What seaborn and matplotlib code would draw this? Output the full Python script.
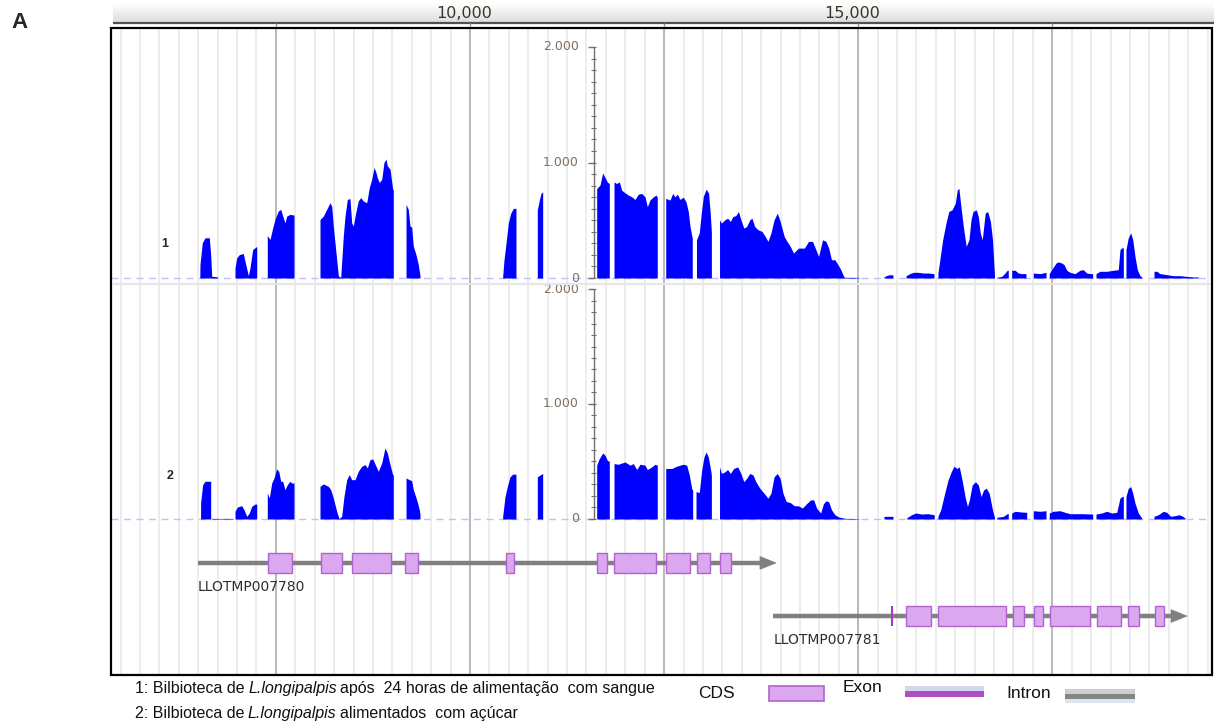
import numpy as np
import matplotlib
matplotlib.use("Agg")
import matplotlib.pyplot as plt
import seaborn as sns
from matplotlib.patches import Rectangle, Polygon

# ---- coverage, library 1 (24 h after blood meal) ----
cov1_pos = [
    6520, 6522, 6552, 6587, 6642, 6660, 6673, 6745, 6748,
    6973, 6973, 6995, 7029, 7080, 7102, 7145, 7166, 7201, 7244, 7253, 7253,
    7389, 7389, 7424, 7459, 7488, 7531, 7562, 7588, 7617, 7639, 7682, 7733, 7733,
    8068, 8068, 8111, 8154, 8197, 8219, 8239, 8270, 8304, 8335, 8368, 8390, 8420, 8454, 8476, 8497, 8528, 8561,
    8592, 8626, 8670, 8703, 8734, 8764, 8789, 8806, 8832, 8863, 8892, 8918, 8935, 8970, 9004, 9012, 9012,
    9176, 9176, 9205, 9227, 9249, 9270, 9304, 9334, 9356, 9356,
    10421, 10421, 10438, 10464, 10493, 10524, 10558, 10592, 10592,
    10867, 10867, 10893, 10914, 10936, 10936,
    11632, 11632, 11674, 11709, 11739, 11768, 11794, 11794,
    11855, 11855, 11889, 11923, 11954, 11996, 12039, 12083, 12125, 12168, 12211, 12254, 12284, 12318, 12361,
    12396, 12412, 12412,
    12521, 12521, 12576, 12611, 12640, 12670, 12705, 12747, 12782, 12812, 12834, 12863, 12863,
    12917, 12917, 12953, 12979, 13005, 13042, 13073, 13094, 13109, 13109,
    13214, 13214, 13239, 13282, 13318, 13354, 13386, 13422, 13458, 13489, 13527, 13563, 13604, 13631, 13667,
    13708, 13761, 13802, 13838, 13876, 13917, 13958, 13995, 14047, 14083, 14125, 14167, 14230, 14307, 14360,
    14411, 14447, 14490, 14541, 14584, 14620, 14656, 14699, 14740, 14776, 14812, 14829, 15010, 15010,
    15332, 15332, 15371, 15410, 15448, 15448,
    15616, 15616, 15667, 15710, 15774, 15839, 15903, 15967, 15976, 15976,
    16027, 16027, 16052, 16088, 16131, 16167, 16208, 16251, 16276, 16297, 16323, 16354, 16391, 16427, 16453,
    16479, 16521, 16547, 16573, 16598, 16636, 16667, 16703, 16730, 16756, 16756,
    16784, 16784, 16848, 16891, 16920, 16933, 16933,
    16977, 16977, 17020, 17062, 17106, 17161, 17161,
    17255, 17255, 17342, 17419, 17419,
    17461, 17461, 17492, 17548, 17577, 17621, 17651, 17686, 17728, 17792, 17857, 17899, 17943, 17986, 18020, 18020,
    18063, 18063, 18114, 18201, 18286, 18350, 18372, 18394, 18415, 18415,
    18449, 18449, 18479, 18510, 18536, 18565, 18595, 18630, 18651, 18651,
    18810, 18810, 18845, 18887, 18973, 19059, 19145, 19231, 19316, 19380, 19380,
]
cov1_depth = [
    0, 116, 305, 348, 348, 203, 15, 10, 0,
    0, 87, 174, 203, 212, 145, 20, 87, 246, 270, 270, 0,
    0, 368, 333, 435, 507, 580, 594, 536, 478, 536, 551, 545, 0,
    0, 507, 536, 594, 652, 620, 449, 246, 20, 5, 362, 536, 681, 687, 478, 449, 565, 667,
    696, 667, 652, 783, 855, 957, 913, 870, 826, 855, 1000, 1029, 971, 942, 768, 768, 0,
    0, 638, 594, 449, 440, 275, 203, 116, 20, 0,
    0, 15, 158, 301, 474, 560, 603, 603, 0,
    0, 589, 675, 732, 746, 0,
    0, 775, 804, 910, 870, 832, 818, 0,
    0, 832, 818, 832, 760, 738, 718, 703, 680, 726, 732, 703, 617, 675, 703,
    718, 700, 0,
    0, 689, 675, 732, 703, 726, 680, 700, 660, 574, 445, 344, 0,
    0, 331, 389, 562, 706, 769, 734, 562, 400, 0,
    0, 504, 475, 504, 518, 490, 533, 539, 576, 504, 432, 446, 504, 518, 446,
    418, 403, 360, 317, 389, 504, 562, 490, 360, 317, 274, 216, 259, 259, 317,
    317, 259, 187, 331, 317, 259, 158, 158, 115, 72, 14, 6, 5, 0,
    0, 10, 23, 29, 26, 0,
    0, 20, 38, 49, 49, 43, 43, 38, 38, 0,
    0, 43, 158, 331, 475, 576, 590, 648, 763, 775, 619, 446, 274, 331, 504,
    576, 590, 533, 389, 331, 562, 576, 490, 331, 14, 0,
    0, 6, 14, 43, 67, 67, 0,
    0, 67, 67, 43, 38, 38, 0,
    0, 43, 38, 49, 0,
    0, 38, 72, 130, 139, 130, 116, 67, 49, 38, 67, 72, 43, 38, 38, 0,
    0, 38, 58, 58, 67, 72, 246, 261, 261, 0,
    0, 246, 348, 391, 333, 188, 72, 20, 10, 0,
    0, 58, 58, 38, 29, 20, 20, 14, 9, 9, 0,
]

# ---- coverage, library 2 (sugar fed) ----
cov2_pos = [
    6530, 6530, 6557, 6587, 6642, 6660, 6660, 6673, 6673, 6951, 6951,
    6973, 6973, 7003, 7059, 7089, 7124, 7157, 7188, 7231, 7253, 7253,
    7389, 7389, 7415, 7446, 7476, 7510, 7536, 7562, 7588, 7617, 7647, 7682, 7703, 7733, 7733,
    8068, 8068, 8111, 8175, 8206, 8239, 8283, 8313, 8347, 8377, 8412, 8445, 8476, 8519, 8561,
    8605, 8648, 8677, 8712, 8747, 8780, 8819, 8863, 8905, 8935, 8970, 9004, 9012, 9012,
    9176, 9176, 9218, 9249, 9270, 9313, 9347, 9356, 9356,
    10421, 10421, 10451, 10486, 10515, 10550, 10592, 10592,
    10867, 10867, 10902, 10936, 10936,
    11632, 11632, 11665, 11709, 11739, 11768, 11794, 11794,
    11855, 11855, 11910, 11996, 12061, 12103, 12147, 12190, 12254, 12284, 12340, 12383, 12412, 12412,
    12521, 12521, 12598, 12662, 12747, 12791, 12825, 12855, 12868, 12868,
    12911, 12911, 12953, 12984, 13014, 13040, 13069, 13100, 13109, 13109,
    13214, 13214, 13239, 13282, 13318, 13354, 13396, 13448, 13489, 13527, 13563, 13604, 13646, 13682, 13734,
    13787, 13838, 13876, 13917, 13958, 13995, 14031, 14073, 14125, 14177, 14230, 14281, 14333, 14386, 14427,
    14464, 14516, 14552, 14584, 14620, 14656, 14699, 14750, 14829, 15010, 15010,
    15332, 15332, 15448, 15448,
    15625, 15625, 15688, 15740, 15818, 15896, 15979, 15979,
    16027, 16027, 16063, 16104, 16157, 16198, 16234, 16271, 16302, 16338, 16376, 16407, 16432, 16468, 16511,
    16547, 16583, 16615, 16651, 16687, 16730, 16756, 16756,
    16784, 16784, 16870, 16920, 16933, 16933,
    16977, 16977, 17020, 17100, 17170, 17170,
    17255, 17255, 17340, 17419, 17419,
    17461, 17461, 17513, 17599, 17664, 17728, 17814, 17899, 18020, 18020,
    18063, 18063, 18136, 18201, 18265, 18330, 18372, 18407, 18415, 18415,
    18449, 18449, 18479, 18510, 18536, 18565, 18608, 18651, 18651,
    18810, 18810, 18865, 18930, 18973, 19025, 19080, 19136, 19180, 19209, 19209,
]
cov2_depth = [
    0, 139, 299, 328, 328, 328, 0, 0, 5, 5, 0,
    0, 67, 104, 116, 81, 23, 52, 110, 130, 130, 0,
    0, 226, 183, 313, 357, 435, 415, 328, 328, 255, 299, 328, 313, 313, 0,
    0, 284, 305, 284, 255, 183, 67, 3, 23, 197, 342, 386, 342, 342, 415,
    458, 473, 444, 516, 522, 473, 415, 487, 618, 574, 473, 386, 386, 0,
    0, 357, 342, 333, 255, 168, 81, 40, 0,
    0, 23, 195, 296, 367, 390, 390, 0,
    0, 367, 382, 396, 0,
    0, 468, 525, 574, 554, 511, 500, 0,
    0, 482, 476, 496, 468, 482, 430, 476, 468, 430, 453, 476, 468, 0,
    0, 439, 439, 459, 476, 468, 382, 267, 250, 0,
    0, 238, 230, 425, 540, 583, 540, 425, 380, 0,
    0, 453, 396, 410, 430, 396, 439, 453, 396, 324, 353, 396, 382, 324, 267,
    224, 181, 224, 367, 396, 353, 224, 152, 143, 115, 115, 95, 132, 166, 166,
    95, 52, 132, 158, 150, 80, 37, 17, 6, 3, 0,
    0, 23, 23, 0,
    0, 10, 37, 52, 43, 46, 37, 0,
    0, 23, 80, 195, 339, 410, 459, 439, 453, 339, 195, 109, 166, 296, 324,
    296, 195, 253, 267, 224, 80, 10, 0,
    0, 14, 23, 46, 46, 0,
    0, 52, 67, 61, 58, 0,
    0, 72, 67, 72, 0,
    0, 52, 67, 72, 58, 46, 46, 46, 43, 0,
    0, 43, 52, 67, 52, 58, 183, 197, 197, 0,
    0, 197, 267, 281, 224, 139, 52, 9, 0,
    0, 23, 37, 67, 58, 23, 29, 37, 23, 9, 0,
]
assert len(cov1_pos) == len(cov1_depth) and len(cov2_pos) == len(cov2_depth)

# ---- gene models ----
gene_names = ["LLOTMP007780", "LLOTMP007781"]
gene_start = [6497, 13909]
gene_end = [13941, 19235]
cds1_start = [7394, 8081, 8483, 9169, 10460, 11640, 11851, 12528, 12921, 13224]
cds1_end = [7705, 8355, 8986, 9325, 10569, 11768, 12400, 12839, 13095, 13360]
cds2_start = [15621, 16033, 16994, 17268, 17469, 18073, 18475, 18823]
cds2_end = [15942, 16902, 17130, 17378, 17982, 18385, 18622, 18943]
exon2_tick = [15435]

ytick_vals = [0, 1000, 2000]
ytick_labels = ["0", "1.000", "2.000"]
ruler_ticks = [7500, 10000, 12500, 15000, 17500]
ruler_labels = {10000: "10,000", 15000: "15,000"}
track_names = ["1", "2"]
legend_parts = [
    ["1: Bilbioteca de", "L.longipalpis", "após  24 horas de alimentação  com sangue"],
    ["2: Bilbioteca de", "L.longipalpis", "alimentados  com açúcar"],
]

sns.set_theme(style="white")
plt.rcParams["font.family"] = ["Liberation Sans", "DejaVu Sans"]

W, H = 1214, 722
BP_PX = 12.88                 # bp per pixel
X0, X1 = 5376, 19557          # visible window
BLUE = "#0000ff"
CDS_FC, CDS_EC = "#dba8f0", "#b062cf"


def fbox(x0, y0, x1, y1):
    return [x0 / W, 1 - y1 / H, (x1 - x0) / W, (y1 - y0) / H]


fig = plt.figure(figsize=(W / 100, H / 100), dpi=100)
renderer = fig.canvas.get_renderer()

# background grid
bg = fig.add_axes(fbox(111, 28, 1212, 675))
bg.set_xlim(X0, X1)
bg.set_ylim(0, 1)
bg.axis("off")
for g in np.arange(5500, X1, 250):
    if g % 2500 == 0:
        bg.axvline(g, color="#b3b3b3", lw=1.3, zorder=1)
    else:
        bg.axvline(g, color="#ececec", lw=1.3, zorder=0)

# coverage tracks
tracks = [
    (fbox(111, 28, 1212, 285), (-60.6, 2164.5), cov1_pos, cov1_depth),
    (fbox(111, 285, 1212, 530), (-95.7, 2034.8), cov2_pos, cov2_depth),
]
xa = 11597  # position of the coverage scale
for box, ylim, pos, dep in tracks:
    ax = fig.add_axes(box)
    ax.set_facecolor("none")
    ax.set_xlim(X0, X1)
    ax.set_ylim(*ylim)
    ax.axis("off")
    ax.axhline(0, color="#c0c0ff", lw=1, ls=(0, (5, 4)), zorder=1)
    ax.fill_between(pos, dep, 0, color=BLUE, lw=0, zorder=3)
    ax.vlines(xa, 0, 2000, color="#707070", lw=1, zorder=4)
    ax.hlines(np.arange(0, 2001, 100), xa - 3 * BP_PX, xa + 2 * BP_PX, color="#707070", lw=0.8, zorder=4)
    ax.hlines(ytick_vals, xa - 6 * BP_PX, xa, color="#707070", lw=1, zorder=4)
    for v, lab in zip(ytick_vals, ytick_labels):
        ax.text(xa - 15 * BP_PX, v, lab, ha="right", va="center", fontsize=9,
                color="#7d6e60", family="DejaVu Sans", zorder=5)

# gene models
gax = fig.add_axes(fbox(111, 530, 1212, 675))
gax.set_facecolor("none")
gax.set_xlim(X0, X1)
gax.set_ylim(3.11, 0.38)
gax.axis("off")
head = 16 * BP_PX
for row, (name, s, e, cs, ce) in enumerate(zip(gene_names, gene_start, gene_end,
                                               [cds1_start, cds2_start], [cds1_end, cds2_end]), start=1):
    gax.plot([s, e - head], [row, row], color="#808080", lw=3.2, solid_capstyle="butt", zorder=2)
    gax.add_patch(Polygon([(e - head, row - 0.12), (e, row), (e - head, row + 0.12)],
                          closed=True, fc="#808080", ec="#808080", lw=0.5, zorder=2))
    for a, b in zip(cs, ce):
        gax.add_patch(Rectangle((a, row - 0.183), b - a, 0.366, fc=CDS_FC, ec=CDS_EC, lw=1, zorder=3))
    gax.text(s, row + 0.45, name, ha="left", va="center", fontsize=10,
             color="#2e2e2e", family="DejaVu Sans")
for t in exon2_tick:
    gax.vlines(t, 2 - 0.19, 2 + 0.19, color="#a040c0", lw=1.5, zorder=3)

# overlay: frame, ruler, labels, legend
ov = fig.add_axes([0, 0, 1, 1])
ov.set_facecolor("none")
ov.set_xlim(0, W)
ov.set_ylim(H, 0)
ov.axis("off")
ov.add_patch(Rectangle((111, 28), 1101, 647, fill=False, ec="black", lw=1.6, zorder=6))
ov.hlines(284, 113, 1211, color="#e6e6e6", lw=1.5, zorder=0)

grad = np.linspace(1.0, 0.87, 40).reshape(-1, 1)
ov.imshow(grad, cmap="gray", vmin=0, vmax=1, extent=(113, 1214, 22, 3), aspect="auto", zorder=1)
ov.hlines(22.5, 113, 1214, color="#505050", lw=1.6, zorder=2)
for rt in ruler_ticks:
    px = 470 + (rt - 10000) / BP_PX
    ov.vlines(px, 23, 26, color="#909090", lw=1, zorder=2)
    if rt in ruler_labels:
        ov.text(px - 6, 13, ruler_labels[rt], ha="center", va="center", fontsize=11.5,
                color="#3a3528", family="DejaVu Sans", zorder=3)

ov.text(165, 244, track_names[0], ha="center", va="center", fontsize=9, fontweight="bold")
ov.text(170, 476, track_names[1], ha="center", va="center", fontsize=9, fontweight="bold")
ov.text(20, 22, "A", ha="center", va="center", fontsize=16, fontweight="bold")

# legend lines: plain / italic species name / plain, laid out piece by piece on a shared baseline
for y, parts in zip([693, 718], legend_parts):
    x = 135
    for k, piece in enumerate(parts):
        t = ov.text(x, y, piece, ha="left", va="baseline", fontsize=11.5, color="#111111",
                    style="italic" if k == 1 else "normal")
        x += t.get_window_extent(renderer).width + 3.5

ov.text(698, 693, "CDS", ha="left", va="center", fontsize=12.5, color="#111111")
ov.add_patch(Rectangle((769, 686), 55, 15, fc=CDS_FC, ec=CDS_EC, lw=1.2))
ov.text(843, 688, "Exon", ha="left", va="center", fontsize=12.5, color="#111111")
ov.add_patch(Rectangle((905, 686), 79, 5, fc="#d2d8ef", lw=0))
ov.add_patch(Rectangle((905, 691), 79, 6, fc="#b04fc0", lw=0))
ov.text(1006, 693, "Intron", ha="left", va="center", fontsize=12.5, color="#111111")
ov.add_patch(Rectangle((1065, 689), 70, 5, fc="#cfcfcf", lw=0))
ov.add_patch(Rectangle((1065, 694), 70, 5, fc="#858585", lw=0))
ov.add_patch(Rectangle((1065, 699), 70, 4, fc="#dfe5f3", lw=0))

fig.savefig("out.png", dpi=100)
